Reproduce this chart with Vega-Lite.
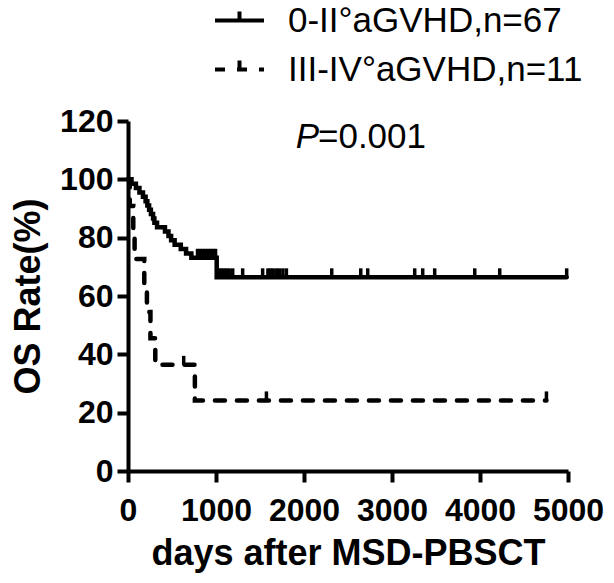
{
  "$schema": "https://vega.github.io/schema/vega-lite/v6.json",
  "autosize": "none",
  "width": 440,
  "height": 350,
  "padding": {"left": 128, "top": 121, "right": 46, "bottom": 112},
  "background": "white",
  "config": {
    "view": {"stroke": null},
    "font": "Liberation Sans",
    "axis": {
      "grid": false,
      "domainColor": "black",
      "domainWidth": 4,
      "tickColor": "black",
      "tickWidth": 4,
      "tickSize": 11,
      "labelFont": "Liberation Sans",
      "labelFontWeight": "bold",
      "labelFontSize": 32,
      "labelColor": "black",
      "labelOverlap": false,
      "labelFlush": false,
      "titleFont": "Liberation Sans",
      "titleFontWeight": "bold",
      "titleFontSize": 36,
      "titleColor": "black"
    }
  },
  "datasets": {
    "km": [
      {"group": "0-II°aGVHD,n=67", "day": 0, "os": 100, "censor": 0},
      {"group": "0-II°aGVHD,n=67", "day": 40, "os": 98.5, "censor": 0},
      {"group": "0-II°aGVHD,n=67", "day": 90, "os": 97.0, "censor": 0},
      {"group": "0-II°aGVHD,n=67", "day": 130, "os": 95.5, "censor": 0},
      {"group": "0-II°aGVHD,n=67", "day": 170, "os": 94.0, "censor": 0},
      {"group": "0-II°aGVHD,n=67", "day": 200, "os": 92.5, "censor": 0},
      {"group": "0-II°aGVHD,n=67", "day": 220, "os": 91.0, "censor": 0},
      {"group": "0-II°aGVHD,n=67", "day": 240, "os": 89.6, "censor": 0},
      {"group": "0-II°aGVHD,n=67", "day": 260, "os": 88.1, "censor": 0},
      {"group": "0-II°aGVHD,n=67", "day": 285, "os": 86.6, "censor": 0},
      {"group": "0-II°aGVHD,n=67", "day": 300, "os": 85.1, "censor": 0},
      {"group": "0-II°aGVHD,n=67", "day": 330, "os": 83.6, "censor": 0},
      {"group": "0-II°aGVHD,n=67", "day": 420, "os": 82.1, "censor": 0},
      {"group": "0-II°aGVHD,n=67", "day": 460, "os": 80.6, "censor": 0},
      {"group": "0-II°aGVHD,n=67", "day": 490, "os": 79.1, "censor": 0},
      {"group": "0-II°aGVHD,n=67", "day": 530, "os": 77.6, "censor": 0},
      {"group": "0-II°aGVHD,n=67", "day": 600, "os": 76.1, "censor": 0},
      {"group": "0-II°aGVHD,n=67", "day": 660, "os": 74.6, "censor": 0},
      {"group": "0-II°aGVHD,n=67", "day": 720, "os": 73.1, "censor": 0},
      {"group": "0-II°aGVHD,n=67", "day": 790, "os": 73.1, "censor": 1},
      {"group": "0-II°aGVHD,n=67", "day": 820, "os": 73.1, "censor": 1},
      {"group": "0-II°aGVHD,n=67", "day": 850, "os": 73.1, "censor": 1},
      {"group": "0-II°aGVHD,n=67", "day": 880, "os": 73.1, "censor": 1},
      {"group": "0-II°aGVHD,n=67", "day": 910, "os": 73.1, "censor": 1},
      {"group": "0-II°aGVHD,n=67", "day": 940, "os": 73.1, "censor": 1},
      {"group": "0-II°aGVHD,n=67", "day": 970, "os": 73.1, "censor": 1},
      {"group": "0-II°aGVHD,n=67", "day": 995, "os": 73.1, "censor": 1},
      {"group": "0-II°aGVHD,n=67", "day": 1008, "os": 66.4, "censor": 0},
      {"group": "0-II°aGVHD,n=67", "day": 1030, "os": 66.4, "censor": 1},
      {"group": "0-II°aGVHD,n=67", "day": 1060, "os": 66.4, "censor": 1},
      {"group": "0-II°aGVHD,n=67", "day": 1090, "os": 66.4, "censor": 1},
      {"group": "0-II°aGVHD,n=67", "day": 1120, "os": 66.4, "censor": 1},
      {"group": "0-II°aGVHD,n=67", "day": 1150, "os": 66.4, "censor": 1},
      {"group": "0-II°aGVHD,n=67", "day": 1190, "os": 66.4, "censor": 1},
      {"group": "0-II°aGVHD,n=67", "day": 1303, "os": 66.4, "censor": 1},
      {"group": "0-II°aGVHD,n=67", "day": 1530, "os": 66.4, "censor": 1},
      {"group": "0-II°aGVHD,n=67", "day": 1590, "os": 66.4, "censor": 1},
      {"group": "0-II°aGVHD,n=67", "day": 1620, "os": 66.4, "censor": 1},
      {"group": "0-II°aGVHD,n=67", "day": 1650, "os": 66.4, "censor": 1},
      {"group": "0-II°aGVHD,n=67", "day": 1690, "os": 66.4, "censor": 1},
      {"group": "0-II°aGVHD,n=67", "day": 1720, "os": 66.4, "censor": 1},
      {"group": "0-II°aGVHD,n=67", "day": 1760, "os": 66.4, "censor": 1},
      {"group": "0-II°aGVHD,n=67", "day": 1800, "os": 66.4, "censor": 1},
      {"group": "0-II°aGVHD,n=67", "day": 2315, "os": 66.4, "censor": 1},
      {"group": "0-II°aGVHD,n=67", "day": 2645, "os": 66.4, "censor": 1},
      {"group": "0-II°aGVHD,n=67", "day": 2724, "os": 66.4, "censor": 1},
      {"group": "0-II°aGVHD,n=67", "day": 3258, "os": 66.4, "censor": 1},
      {"group": "0-II°aGVHD,n=67", "day": 3349, "os": 66.4, "censor": 1},
      {"group": "0-II°aGVHD,n=67", "day": 3485, "os": 66.4, "censor": 1},
      {"group": "0-II°aGVHD,n=67", "day": 3940, "os": 66.4, "censor": 1},
      {"group": "0-II°aGVHD,n=67", "day": 4224, "os": 66.4, "censor": 1},
      {"group": "0-II°aGVHD,n=67", "day": 4985, "os": 66.4, "censor": 1},
      {"group": "III-IV°aGVHD,n=11", "day": 0, "os": 100, "censor": 0},
      {"group": "III-IV°aGVHD,n=11", "day": 20, "os": 90.9, "censor": 0},
      {"group": "III-IV°aGVHD,n=11", "day": 60, "os": 81.8, "censor": 0},
      {"group": "III-IV°aGVHD,n=11", "day": 75, "os": 72.7, "censor": 0},
      {"group": "III-IV°aGVHD,n=11", "day": 185, "os": 63.6, "censor": 0},
      {"group": "III-IV°aGVHD,n=11", "day": 215, "os": 54.5, "censor": 0},
      {"group": "III-IV°aGVHD,n=11", "day": 255, "os": 45.5, "censor": 0},
      {"group": "III-IV°aGVHD,n=11", "day": 310, "os": 36.4, "censor": 0},
      {"group": "III-IV°aGVHD,n=11", "day": 633, "os": 36.4, "censor": 1},
      {"group": "III-IV°aGVHD,n=11", "day": 760, "os": 24.2, "censor": 0},
      {"group": "III-IV°aGVHD,n=11", "day": 1573, "os": 24.2, "censor": 1},
      {"group": "III-IV°aGVHD,n=11", "day": 4755, "os": 24.2, "censor": 1}
    ]
  },
  "data": {"name": "km"},
  "layer": [
    {
      "mark": {"type": "line", "interpolate": "step-after", "color": "black", "strokeWidth": 4.5, "strokeCap": "round"},
      "encoding": {
        "x": {
          "field": "day", "type": "quantitative",
          "scale": {"domain": [0, 5000], "nice": false, "zero": false},
          "axis": {"values": [0, 1000, 2000, 3000, 4000, 5000], "format": "d", "title": "days after MSD-PBSCT", "labelPadding": 13, "titlePadding": 10}
        },
        "y": {
          "field": "os", "type": "quantitative",
          "scale": {"domain": [0, 120], "nice": false},
          "axis": {"values": [0, 20, 40, 60, 80, 100, 120], "title": "OS Rate(%)", "labelPadding": 4, "titlePadding": 12}
        },
        "strokeDash": {
          "field": "group", "type": "nominal",
          "scale": {"domain": ["0-II°aGVHD,n=67", "III-IV°aGVHD,n=11"], "range": [[1, 0], [10, 12]]},
          "legend": {
            "orient": "none",
            "legendX": 85,
            "legendY": -127,
            "title": null,
            "padding": 0,
            "symbolType": "M-1,0H1M0,0V-0.37",
            "symbolSize": 2401,
            "symbolStrokeWidth": 4,
            "symbolStrokeColor": "black",
            "symbolFillColor": "transparent",
            "labelFont": "Liberation Sans",
            "labelFontSize": 35,
            "labelColor": "black",
            "labelOffset": 22,
            "labelLimit": 400,
            "rowPadding": 4
          }
        }
      }
    },
    {
      "transform": [{"filter": "datum.censor == 1"}],
      "mark": {"type": "point", "shape": "M0,0V-1", "size": 324, "filled": false, "stroke": "black", "strokeWidth": 3.5, "opacity": 1},
      "encoding": {
        "x": {"field": "day", "type": "quantitative"},
        "y": {"field": "os", "type": "quantitative"}
      }
    },
    {
      "transform": [{"filter": "datum.day == 0 && datum.censor == 0 && datum.os == 100 && datum.group == '0-II°aGVHD,n=67'"}],
      "mark": {"type": "text", "font": "Liberation Sans", "fontSize": 35, "fontStyle": "italic", "align": "right", "baseline": "alphabetic", "color": "black", "dx": 1},
      "encoding": {"x": {"datum": 2159, "type": "quantitative"}, "y": {"datum": 110.7, "type": "quantitative"}, "text": {"value": "P"}}
    },
    {
      "transform": [{"filter": "datum.day == 0 && datum.censor == 0 && datum.os == 100 && datum.group == '0-II°aGVHD,n=67'"}],
      "mark": {"type": "text", "font": "Liberation Sans", "fontSize": 35, "align": "left", "baseline": "alphabetic", "color": "black"},
      "encoding": {"x": {"datum": 2159, "type": "quantitative"}, "y": {"datum": 110.7, "type": "quantitative"}, "text": {"value": "=0.001"}}
    }
  ]
}
